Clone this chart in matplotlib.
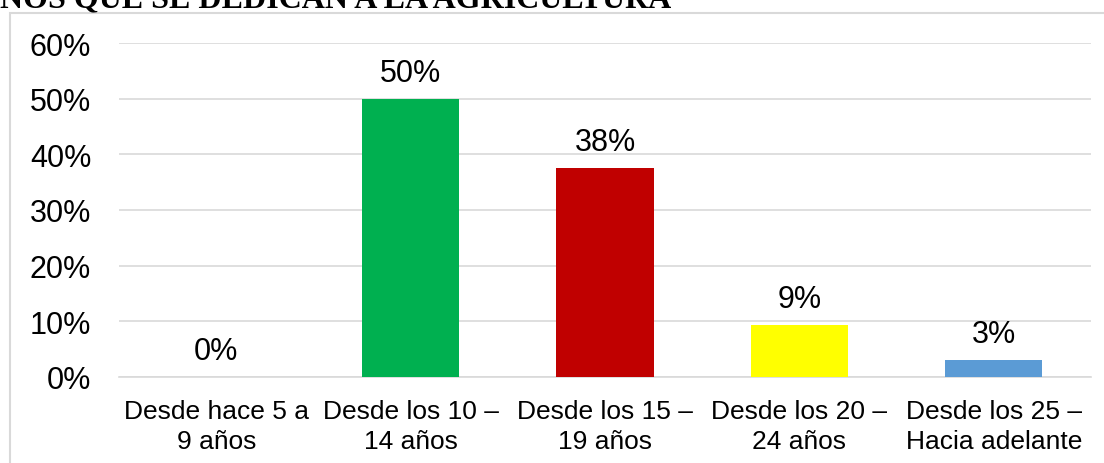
import matplotlib.pyplot as plt
from matplotlib.patches import Rectangle
from matplotlib.ticker import FuncFormatter

# data
categorias = ["Desde hace 5 a\n9 años", "Desde los 10 –\n14 años", "Desde los 15 –\n19 años",
              "Desde los 20 –\n24 años", "Desde los 25 –\nHacia adelante"]
porcentajes = [0.0, 0.50, 0.375, 0.09375, 0.03125]
etiquetas = ["0%", "50%", "38%", "9%", "3%"]
colores = ["#5B9BD5", "#00B050", "#C00000", "#FFFF00", "#5B9BD5"]
titulo = "NOS QUE SE DEDICAN A LA AGRICULTURA"

W, H = 1104, 464
plt.rcParams['font.family'] = ['Liberation Sans', 'DejaVu Sans']
fig = plt.figure(figsize=(W / 100, H / 100), dpi=100)

# chart border (runs off the image on right and bottom)
fig.patches.append(Rectangle((10 / W, -0.1), 1.2, (H - 14) / H + 0.1,
                             transform=fig.transFigure, fill=False,
                             edgecolor="#D9D9D9", linewidth=1.5))

fig.text(0 / W, (H - 7) / H, titulo, family="Liberation Serif", weight="bold",
         fontsize=23, ha="left", va="baseline")

ax = fig.add_axes([119 / W, (H - 378) / H, (1091 - 119) / W, (378 - 44) / H])
x = range(len(categorias))
ax.bar(x, porcentajes, width=0.5, color=colores, zorder=3)

for xi, v, t in zip(x, porcentajes, etiquetas):
    ax.annotate(t, (xi, v), xytext=(0, 13), textcoords="offset points",
                ha="center", va="baseline", fontsize=22)

ax.set_xlim(-0.5, 4.5)
ax.set_ylim(0, 0.6)
ax.set_yticks([0, 0.1, 0.2, 0.3, 0.4, 0.5, 0.6])
ax.yaxis.set_major_formatter(FuncFormatter(lambda v, p: f"{v * 100:.0f}%"))
ax.set_xticks(list(x))
ax.set_xticklabels(categorias, fontsize=19, linespacing=1.3)
ax.tick_params(axis="y", labelsize=22, length=0, pad=20)
ax.tick_params(axis="x", length=0, pad=16)
ax.grid(axis="y", color="#D9D9D9", linewidth=1.2, zorder=0)
for s in ["top", "right", "left"]:
    ax.spines[s].set_visible(False)
ax.spines["bottom"].set_color("#D9D9D9")
ax.spines["bottom"].set_linewidth(1.2)

fig.savefig("out.png", dpi=100)
